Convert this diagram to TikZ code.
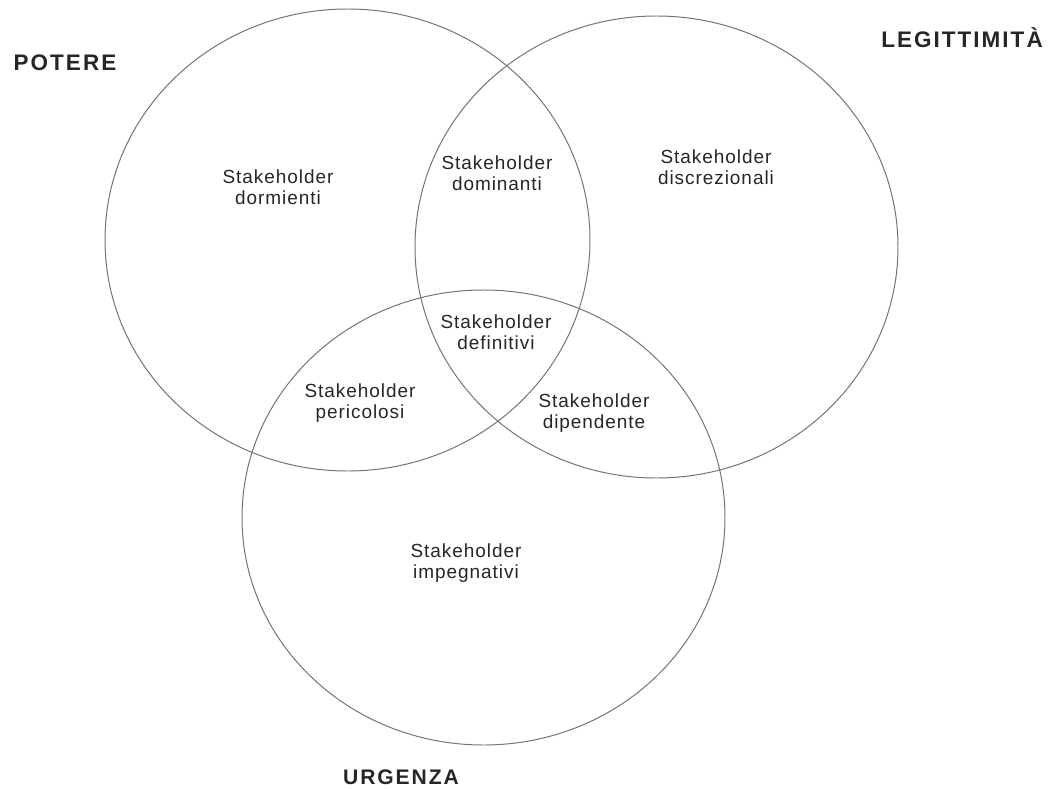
\documentclass[tikz,border=0pt]{standalone}
\usepackage{fontspec}
\setmainfont{Liberation Sans}
\newfontfamily\regionfont[LetterSpace=5]{Liberation Sans}
\newfontfamily\setfont[LetterSpace=9]{Liberation Sans Bold}

\begin{document}
\begin{tikzpicture}[
    x=0.025cm,
    y=-0.025cm,
    attribute/.style={
        draw=black!55,
        line width=0.7pt
    },
    region/.style={
        font=\regionfont\fontsize{13.5}{15}\selectfont,
        text=black!85,
        align=center,
        inner sep=0pt
    },
    setlabel/.style={
        font=\setfont\fontsize{16}{18}\selectfont,
        text=black!85,
        anchor=base,
        inner sep=0pt
    }
]
    \useasboundingbox[fill=white] (0,0) rectangle (1048,789);

    % the three attributes
    \draw[attribute] (347.5,240) ellipse [x radius=242.5, y radius=231];
    \draw[attribute] (656.5,247) ellipse [x radius=241.5, y radius=231];
    \draw[attribute] (483.5,517.5) ellipse [x radius=241.5, y radius=227.5];

    \node[setlabel] (potere) at (65,70.5) {POTERE};
    \node[setlabel] (legittimita) at (962,48) {LEGITTIMITÀ};
    \node[setlabel, font=\setfont\fontsize{15}{17}\selectfont] (urgenza) at (401,784) {URGENZA};

    % classes of stakeholder
    \node[region] (dormienti) at (278,187) {Stakeholder\\dormienti};
    \node[region] (dominanti) at (497,173) {Stakeholder\\dominanti};
    \node[region] (discrezionali) at (716,167) {Stakeholder\\discrezionali};
    \node[region] (definitivi) at (496,332) {Stakeholder\\definitivi};
    \node[region] (pericolosi) at (360,403) {Stakeholder\\pericolosi};
    \node[region] (dipendente) at (594,413) {Stakeholder\\dipendente};
    \node[region] (impegnativi) at (466,563) {Stakeholder\\impegnativi};
\end{tikzpicture}
\end{document}
